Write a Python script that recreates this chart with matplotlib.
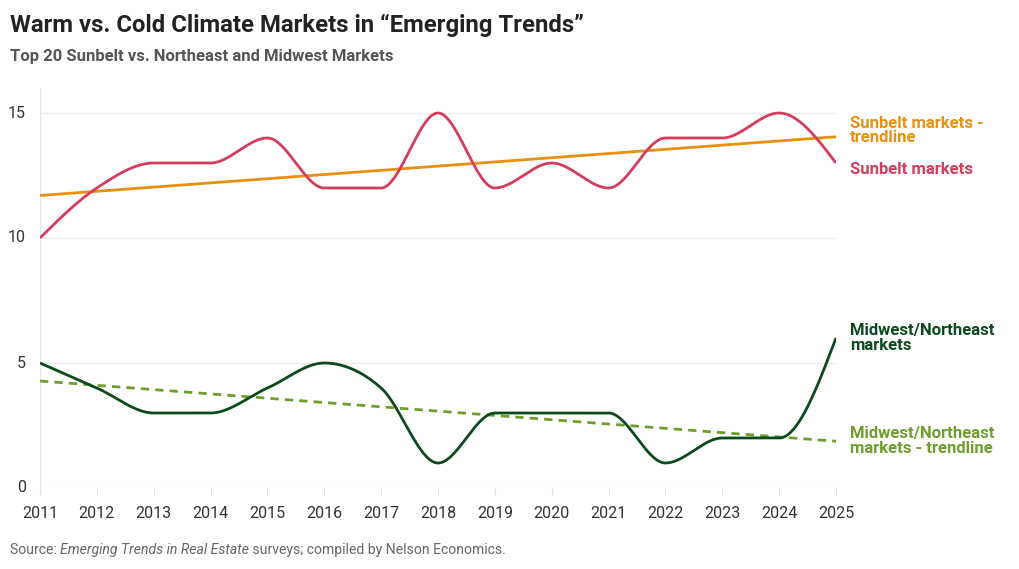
import numpy as np
import matplotlib
matplotlib.use("Agg")
import matplotlib.pyplot as plt

years = [2011, 2012, 2013, 2014, 2015, 2016, 2017, 2018, 2019, 2020, 2021, 2022, 2023, 2024, 2025]
sunbelt = [10, 12, 13, 13, 14, 12, 12, 15, 12, 13, 12, 14, 14, 15, 13]
midwest = [5, 4, 3, 3, 4, 5, 4, 1, 3, 3, 3, 1, 2, 2, 6]
sunbelt_trend = [11.7, 14.05]   # values at first / last year
midwest_trend = [4.28, 1.87]
yticks = [0, 5, 10, 15]

C_SUN = "#D63C5C"
C_SUN_T = "#EA9010"
C_MW = "#0C4A1E"
C_MW_T = "#6F9E2D"

plt.rcParams['font.family'] = ['Roboto', 'DejaVu Sans']


def monotone(x, y, n=40):
    x = np.asarray(x, float); y = np.asarray(y, float)
    h = np.diff(x); s = np.diff(y) / h
    m = np.zeros_like(y)
    for i in range(1, len(y) - 1):
        s0, s1 = s[i - 1], s[i]
        p = (s0 * h[i] + s1 * h[i - 1]) / (h[i - 1] + h[i])
        m[i] = (np.sign(s0) + np.sign(s1)) * min(abs(s0), abs(s1), 0.5 * abs(p))
    m[0] = (3 * s[0] - m[1]) / 2
    m[-1] = (3 * s[-1] - m[-2]) / 2
    xs, ys = [], []
    for i in range(len(h)):
        t = np.linspace(0, 1, n, endpoint=(i == len(h) - 1))
        h00 = 2 * t**3 - 3 * t**2 + 1
        h10 = t**3 - 2 * t**2 + t
        h01 = -2 * t**3 + 3 * t**2
        h11 = t**3 - t**2
        xs.append(x[i] + t * h[i])
        ys.append(h00 * y[i] + h10 * h[i] * m[i] + h01 * y[i + 1] + h11 * h[i] * m[i + 1])
    return np.concatenate(xs), np.concatenate(ys)


fig = plt.figure(figsize=(10.2, 5.69), dpi=100)
ax = fig.add_axes([40 / 1020, 1 - 488 / 569, (836 - 40) / 1020, 400 / 569])
ax.set_xlim(years[0], years[-1])
ax.set_ylim(0, 16)

for sp in ax.spines.values():
    sp.set_visible(False)
ax.axvline(years[0], color="#e6e6e6", lw=0.9, zorder=0)
for yv in yticks:
    ax.axhline(yv, color="#ececec", lw=0.9, zorder=0)

ax.set_yticks(yticks)
ax.set_xticks(years)
ax.set_xticklabels([str(y) for y in years])
ax.tick_params(axis='y', length=0, pad=10, labelsize=11.5, labelcolor="#333333")
ax.tick_params(axis='x', length=5, width=0.8, color="#e0e0e0", pad=8, labelsize=11.5, labelcolor="#333333")
for lab in ax.get_yticklabels():
    lab.set_verticalalignment('center')

ax.plot([years[0], years[-1]], sunbelt_trend, color=C_SUN_T, lw=2.0, solid_capstyle='butt', zorder=3)
ax.plot([years[0], years[-1]], midwest_trend, color=C_MW_T, lw=2.0, ls=(0, (3, 2.2)), zorder=3)
xs, ys = monotone(years, sunbelt)
ax.plot(xs, ys, color=C_SUN, lw=2.0, zorder=4, solid_capstyle='butt')
xs, ys = monotone(years, midwest)
ax.plot(xs, ys, color=C_MW, lw=2.0, zorder=4, solid_capstyle='butt')

lab_x = 850 / 1020
def label(y_px, text, color):
    fig.text(lab_x, 1 - y_px / 569, text, color=color, fontsize=12, fontweight='bold',
             va='center', ha='left', linespacing=0.98)

label(130.5, "Sunbelt markets -\ntrendline", C_SUN_T)
label(169.5, "Sunbelt markets", C_SUN)
label(338, "Midwest/Northeast\nmarkets", C_MW)
label(441, "Midwest/Northeast\nmarkets - trendline", C_MW_T)

fig.text(10 / 1020, 1 - 25 / 569, "Warm vs. Cold Climate Markets in \u201cEmerging Trends\u201d",
         fontsize=17.2, fontweight='bold', color="#222222", va='center', ha='left')
fig.text(10 / 1020, 1 - 56 / 569, "Top 20 Sunbelt vs. Northeast and Midwest Markets",
         fontsize=12, fontweight='bold', color="#555555", va='center', ha='left')

t1 = fig.text(10 / 1020, 1 - 550 / 569, "Source: ", fontsize=10.1, color="#666666", va='center', ha='left')
t2 = ax.annotate("Emerging Trends in Real Estate", xy=(1, 0), xycoords=t1, fontsize=10.1,
                 color="#666666", style='italic', va='bottom', ha='left', annotation_clip=False)
t3 = ax.annotate(" surveys; compiled by Nelson Economics.", xy=(1, 0), xycoords=t2, fontsize=10.1,
                 color="#666666", va='bottom', ha='left', annotation_clip=False)

fig.savefig("out.png", dpi=100)
